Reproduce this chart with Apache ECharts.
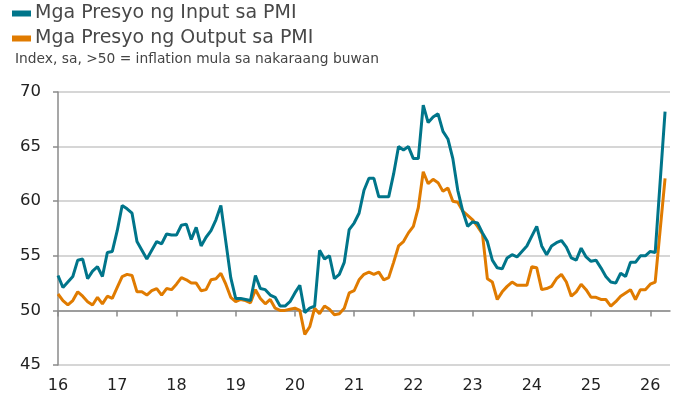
<!DOCTYPE html>
<html>
<head>
<meta charset="utf-8">
<script src="https://cdn.jsdelivr.net/npm/echarts@6/dist/echarts.min.js"></script>
<style>
html,body{margin:0;padding:0;background:#fff;}
#chart{width:682px;height:407px;}
</style>
</head>
<body>
<div id="chart"></div>
<script>
// Monthly, Jan 2016 .. May 2026 (axis), data to Apr 2026 (Mar 2026 not plotted separately)
const startYear = 2016;
const axisMonths = 125;
const months = [];
for (let i = 0; i < axisMonths; i++) {
  const y = startYear + Math.floor(i / 12);
  const m = (i % 12) + 1;
  months.push(y + '-' + (m < 10 ? '0' + m : m));
}
const yTicks = [45, 50, 55, 60, 65, 70];
const seriesNames = ['Mga Presyo ng Input sa PMI', 'Mga Presyo ng Output sa PMI'];
const subtitle = 'Index, sa, >50 = inflation mula sa nakaraang buwan';

const inputPrices = [
  53.2, 52.1, 52.6, 53.1, 54.6, 54.7, 52.9, 53.6, 54.0, 53.1, 55.3, 55.4,
  57.3, 59.6, 59.3, 58.9, 56.3, 55.5, 54.7, 55.5, 56.3, 56.1, 57.0, 56.9,
  56.9, 57.8, 57.9, 56.5, 57.6, 55.9, 56.7, 57.3, 58.3, 59.6, 56.3, 53.0,
  51.1, 51.1, 51.0, 50.9, 53.2, 52.0, 51.9, 51.4, 51.2, 50.4, 50.4, 50.8,
  51.6, 52.3, 49.8, 50.2, 50.4, 55.5, 54.7, 55.0, 52.9, 53.3, 54.4, 57.4,
  58.0, 58.9, 61.0, 62.1, 62.1, 60.4, 60.4, 60.4, 62.5, 65.0, 64.7, 65.0,
  63.9, 63.9, 68.8, 67.2, 67.7, 68.0, 66.4, 65.7, 63.9, 61.0, 59.1, 57.7,
  58.1, 58.0, 57.1, 56.3, 54.6, 53.9, 53.8, 54.8, 55.1, 54.9, 55.4, 55.9,
  56.8, 57.7, 55.9, 55.1, 55.9, 56.2, 56.4, 55.8, 54.8, 54.6, 55.7, 54.9,
  54.5, 54.6, 53.9, 53.1, 52.6, 52.5, 53.4, 53.1, 54.4, 54.4, 55.0, 55.0,
  55.4, 55.3, null, 68.2
];
const outputPrices = [
  51.5, 50.9, 50.5, 50.9, 51.7, 51.3, 50.8, 50.5, 51.2, 50.6, 51.3, 51.1,
  52.1, 53.1, 53.3, 53.2, 51.7, 51.7, 51.4, 51.8, 52.0, 51.4, 52.0, 51.9,
  52.4, 53.0, 52.8, 52.5, 52.5, 51.8, 51.9, 52.8, 52.9, 53.4, 52.4, 51.2,
  50.8, 51.0, 50.9, 50.7, 51.9, 51.1, 50.6, 51.0, 50.2, 50.0, 50.0, 50.1,
  50.2, 50.0, 47.8, 48.5, 50.2, 49.7, 50.4, 50.1, 49.6, 49.7, 50.2, 51.6,
  51.8, 52.8, 53.3, 53.5, 53.3, 53.5, 52.8, 53.0, 54.4, 55.9, 56.3, 57.1,
  57.7, 59.4, 62.7, 61.6, 62.0, 61.7, 60.9, 61.2, 60.0, 59.9, 59.1, 58.7,
  58.3, 57.7, 57.0, 52.9, 52.6, 51.0, 51.7, 52.2, 52.6, 52.3, 52.3, 52.3,
  54.0, 53.9, 51.9, 52.0, 52.2, 52.9, 53.3, 52.6, 51.3, 51.7, 52.4, 51.9,
  51.2, 51.2, 51.0, 51.0, 50.4, 50.8, 51.3, 51.6, 51.9, 51.0, 51.9, 51.9,
  52.4, 52.6, null, 62.1
];

const colors = ['#00758a', '#e07b00'];
const FONT = 'DejaVu Sans';
const isJan = (idx) => idx % 12 === 0;

const chart = echarts.init(document.getElementById('chart'), null, {renderer: 'canvas'});
chart.setOption({
  animation: false,
  color: colors,
  title: {
    text: subtitle,
    left: 10, top: 47,
    textStyle: {fontFamily: FONT, fontSize: 13.8, fontWeight: 'normal', color: '#444'}
  },
  legend: {
    orient: 'vertical',
    left: 12, top: 3, padding: 0,
    itemWidth: 19, itemHeight: 6, itemGap: 4,
    icon: 'rect',
    data: seriesNames,
    textStyle: {fontFamily: FONT, fontSize: 19, color: '#484848', lineHeight: 21, padding: [0,0,0,-1]}
  },
  grid: {left: 58, right: 12, top: 92, bottom: 42, containLabel: false},
  xAxis: [{
    type: 'category',
    data: months,
    boundaryGap: false,
    axisLine: {show: false},
    axisTick: {show: false},
    axisLabel: {
      interval: (idx) => isJan(idx),
      formatter: (v) => v.slice(2, 4),
      fontFamily: FONT, fontSize: 16, color: '#222', margin: 13
    },
    splitLine: {show: false}
  }, {
    type: 'category',
    data: months,
    boundaryGap: false,
    position: 'bottom',
    offset: -54.5,
    axisLine: {show: true, lineStyle: {color: '#8a8a8a', width: 1.5}},
    axisTick: {show: true, interval: (idx) => isJan(idx), length: 6, lineStyle: {color: '#8a8a8a', width: 1.5}},
    axisLabel: {show: false},
    splitLine: {show: false}
  }],
  yAxis: {
    type: 'value',
    min: 45, max: 70, interval: 5,
    axisLine: {show: true, lineStyle: {color: '#8a8a8a', width: 1.5}},
    axisTick: {show: true, length: 5, lineStyle: {color: '#8a8a8a', width: 1.5}},
    axisLabel: {fontFamily: FONT, fontSize: 16.5, color: '#222', margin: 17},
    splitLine: {show: true, lineStyle: {color: '#c8c8c8', width: 1.5}}
  },
  series: [{
    name: seriesNames[0],
    type: 'line',
    xAxisIndex: 0,
    data: inputPrices,
    connectNulls: true,
    showSymbol: false,
    symbol: 'none',
    itemStyle: {color: colors[0]},
    lineStyle: {color: colors[0], width: 3},
    z: 3
  }, {
    name: seriesNames[1],
    type: 'line',
    xAxisIndex: 0,
    data: outputPrices,
    connectNulls: true,
    showSymbol: false,
    symbol: 'none',
    itemStyle: {color: colors[1]},
    lineStyle: {color: colors[1], width: 3},
    z: 2
  }]
});
</script>
</body>
</html>
